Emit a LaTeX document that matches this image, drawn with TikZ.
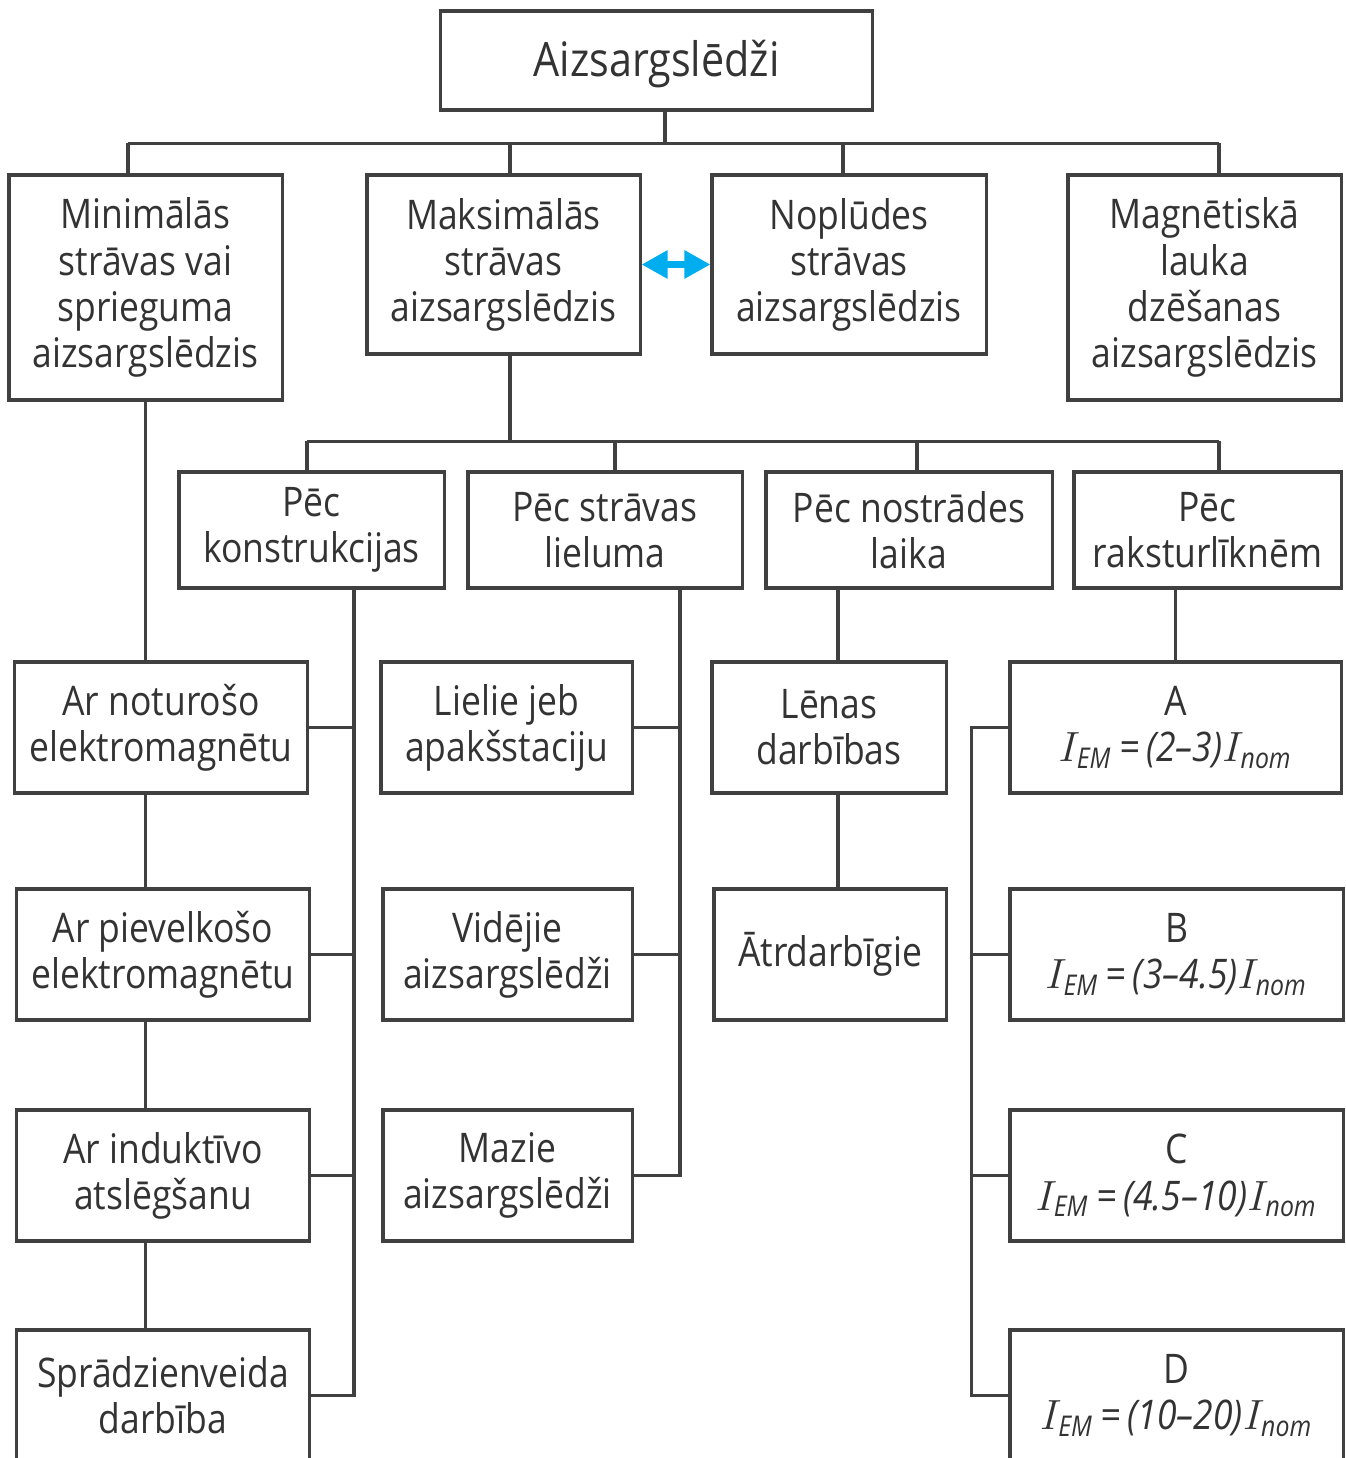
\documentclass[tikz,border=0pt]{standalone}
\usepackage{amsmath}
\usepackage{fontspec}
\setmainfont{Open Sans}[FakeStretch=0.87]
\usetikzlibrary{arrows.meta,positioning,calc}
\definecolor{txtgray}{HTML}{333333}
\definecolor{linegray}{HTML}{404040}
\definecolor{arrcyan}{HTML}{00AEEF}
\newcommand{\iem}[1]{\textit{$I_{\text{\itshape EM}}$\,=\,(#1)$I_{\text{\itshape nom}}$}}

\begin{document}
\begin{tikzpicture}[x=0.01cm, y=-0.01cm,
  box/.style={rectangle, draw=linegray, line width=0.9pt, text=txtgray,
    align=center, inner sep=0pt, font=\fontsize{11.6}{13.1}\selectfont},
  con/.style={draw=linegray, line width=0.9pt},
  dblarr/.style={{Triangle[length=0.26cm, width=0.27cm]}-{Triangle[length=0.26cm, width=0.27cm]},
    line width=1.8pt, draw=arrcyan}
]
  \useasboundingbox (0,0) rectangle (1345,1458);
  \clip (0,0) rectangle (1345,1458);

  % top level
  \node[box, font=\fontsize{13.5}{15}\selectfont, minimum width=4.31cm,
    minimum height=0.99cm, text depth=0.05cm] (top) at (656.5,60.5) {Aizsargslēdži};
  \node[box, minimum width=2.73cm, minimum height=2.25cm] (minv) at (145.5,287.5)
    {Minimālās\\strāvas vai\\sprieguma\\aizsargslēdzis};
  \node[box, minimum width=2.73cm, minimum height=1.79cm] (maks) at (503.5,264.5)
    {Maksimālās\\strāvas\\aizsargslēdzis};
  \node[box, minimum width=2.74cm, minimum height=1.79cm] (nopl) at (849,264.5)
    {Noplūdes\\strāvas\\aizsargslēdzis};
  \node[box, minimum width=2.73cm, minimum height=2.25cm] (magn) at (1204.5,287.5)
    {Magnētiskā\\lauka\\dzēšanas\\aizsargslēdzis};

  % groups
  \node[box, minimum width=2.65cm, minimum height=1.16cm] (konstr) at (311.5,530)
    {Pēc\\konstrukcijas};
  \node[box, minimum width=2.74cm, minimum height=1.16cm] (lielums) at (605,530)
    {Pēc strāvas\\lieluma};
  \node[box, minimum width=2.86cm, minimum height=1.16cm] (laiks) at (909,530)
    {Pēc nostrādes\\laika};
  \node[box, minimum width=2.67cm, minimum height=1.16cm] (rakst) at (1207.5,530)
    {Pēc\\raksturlīknēm};

  % by construction
  \node[box, minimum width=2.92cm, minimum height=1.31cm] (notur) at (161,727.5)
    {Ar noturošo\\elektromagnētu};
  \node[box, minimum width=2.92cm, minimum height=1.31cm] (pievelk) at (163,954.5)
    {Ar pievelkošo\\elektromagnētu};
  \node[box, minimum width=2.92cm, minimum height=1.31cm] (indukt) at (163,1175.5)
    {Ar induktīvo\\atslēgšanu};
  \node[box, minimum width=2.92cm, minimum height=1.31cm] (spradz) at (163,1395.5)
    {Sprādzienveida\\darbība};

  % by current
  \node[box, minimum width=2.51cm, minimum height=1.31cm] (lielie) at (506.5,727.5)
    {Lielie jeb\\apakšstaciju};
  \node[box, minimum width=2.49cm, minimum height=1.31cm] (videjie) at (507.5,954.5)
    {Vidējie\\aizsargslēdži};
  \node[box, minimum width=2.49cm, minimum height=1.31cm] (mazie) at (507.5,1175.5)
    {Mazie\\aizsargslēdži};

  % by time
  \node[box, minimum width=2.34cm, minimum height=1.31cm] (lenas) at (829,727.5)
    {Lēnas\\darbības};
  \node[box, minimum width=2.32cm, minimum height=1.31cm] (atrd) at (830,954.5)
    {Ātrdarbīgie};

  % by characteristic
  \node[box, minimum width=3.31cm, minimum height=1.31cm] (tipA) at (1175.5,727.5)
    {A\\\iem{2–3}};
  \node[box, minimum width=3.33cm, minimum height=1.31cm] (tipB) at (1176.5,954.5)
    {B\\\iem{3–4.5}};
  \node[box, minimum width=3.33cm, minimum height=1.31cm] (tipC) at (1176.5,1175.5)
    {C\\\iem{4.5–10}};
  \node[box, minimum width=3.33cm, minimum height=1.31cm] (tipD) at (1176.5,1395.5)
    {D\\\iem{10–20}};

  % tree lines, top
  \coordinate (bus1) at ($(minv.north)+(-17.5,-30)$);
  \draw[con] (bus1) -- ($(magn.north)+(14.5,-30)$);
  \coordinate (t1) at ($(top.south)+(8.5,0)$);
  \draw[con] (t1) -- (t1 |- bus1);
  \foreach \n/\dx in {minv/-17.5, maks/6.5, nopl/-6, magn/14.5}
    \draw[con] ($(\n.north)+(\dx,0)$) -- ++(0,-30);
  \draw[dblarr] (maks.east) -- (nopl.west);

  % tree lines, groups
  \coordinate (bus2) at ($(konstr.north)+(-4.5,-29)$);
  \draw[con] (bus2) -- ($(rakst.north)+(11.5,-29)$);
  \coordinate (m1) at ($(maks.south)+(6.5,0)$);
  \draw[con] (m1) -- (m1 |- bus2);
  \foreach \n/\dx in {konstr/-4.5, lielums/10, laiks/8, rakst/11.5}
    \draw[con] ($(\n.north)+(\dx,0)$) -- ++(0,-29);

  % left column chain
  \draw[con] (minv.south) -- (minv.south |- notur.north);
  \draw[con] (minv.south |- notur.south) -- (minv.south |- pievelk.north);
  \draw[con] (minv.south |- pievelk.south) -- (minv.south |- indukt.north);
  \draw[con] (minv.south |- indukt.south) -- (minv.south |- spradz.north);

  % construction branch
  \draw[con] ($(konstr.south)+(42.5,0)$) coordinate (kx) |- (spradz.east);
  \foreach \n in {notur, pievelk, indukt}
    \draw[con] (\n.east) -- (\n.east -| kx);

  % current branch
  \draw[con] ($(lielums.south)+(75,0)$) coordinate (lx) |- (mazie.east);
  \foreach \n in {lielie, videjie}
    \draw[con] (\n.east) -- (\n.east -| lx);

  % time branch
  \coordinate (l1) at ($(lenas.north)+(9,0)$);
  \draw[con] (l1) -- (l1 |- laiks.south);
  \draw[con] ($(lenas.south)+(9,0)$) -- ($(atrd.north)+(8,0)$);

  % characteristic branch
  \draw[con] (tipA.north) -- (tipA.north |- rakst.south);
  \draw[con] (tipA.west) -- ++(-37,0) coordinate (rx) |- (tipD.west);
  \foreach \n in {tipB, tipC}
    \draw[con] (\n.west) -- (\n.west -| rx);
\end{tikzpicture}
\end{document}
